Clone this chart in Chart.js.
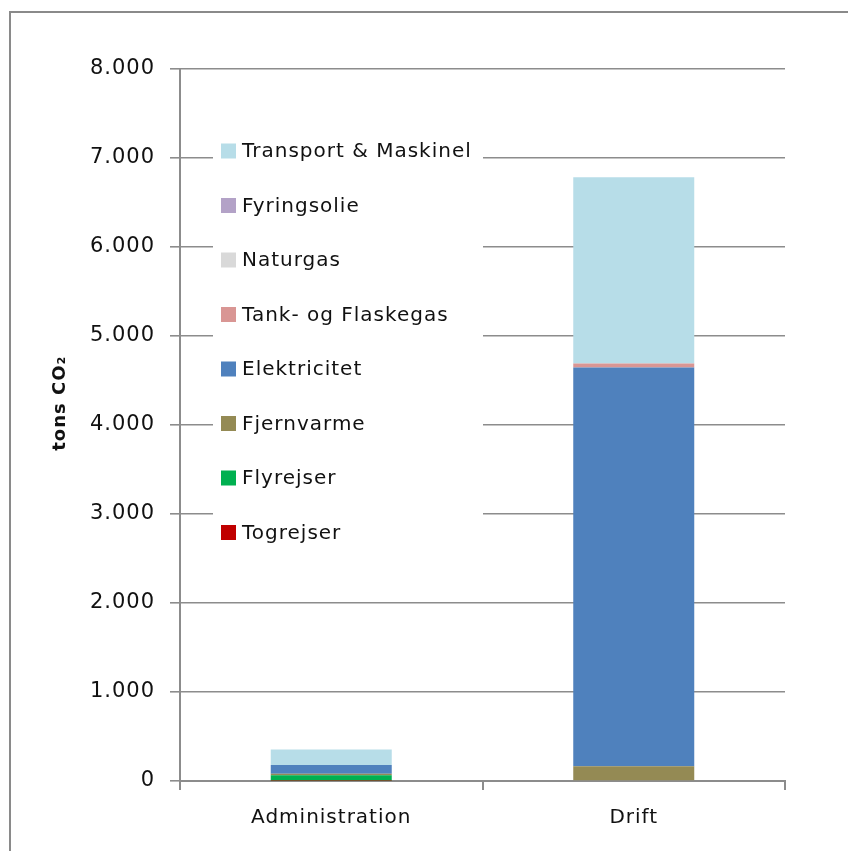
<!DOCTYPE html>
<html>
<head>
<meta charset="utf-8">
<script src="https://cdn.jsdelivr.net/npm/chart.js@4/dist/chart.umd.min.js"></script>
<style>
  html, body { margin: 0; padding: 0; background: #fff; overflow: hidden; }
  #wrap { position: relative; width: 848px; height: 851px; }
  #frame { position: absolute; left: 9px; top: 11px; width: 900px; height: 900px;
           border-left: 2px solid #8a8a8a; border-top: 2px solid #8a8a8a; pointer-events: none; }
  canvas { position: absolute; left: 0; top: 0; }
</style>
</head>
<body>
<div id="wrap">
  <canvas id="co2Chart" width="848" height="851"></canvas>
  <div id="frame"></div>
</div>
<script>
// ==========================================
// Data (tons CO2 per kategori)
// ==========================================
const categories = ['Administration', 'Drift'];

const togrejser    = [2, 0];
const flyrejser    = [64, 0];
const fjernvarme   = [15, 165];
const elektricitet = [98, 4480];
const tankgas      = [0, 45];
const naturgas     = [0, 0];
const fyringsolie  = [0, 0];
const transport    = [175, 2095];

const seriesNames  = ['Togrejser', 'Flyrejser', 'Fjernvarme', 'Elektricitet',
                      'Tank- og Flaskegas', 'Naturgas', 'Fyringsolie', 'Transport & Maskinel'];
const seriesValues = [togrejser, flyrejser, fjernvarme, elektricitet,
                      tankgas, naturgas, fyringsolie, transport];
const seriesColors = ['#c00000', '#00b050', '#948a54', '#4f81bd',
                      '#d99694', '#d9d9d9', '#b3a2c7', '#b7dde8'];

const yMax = 8000;
const yStep = 1000;

// punktum som tusindtalsseparator
function fmt(v) {
    return String(v).replace(/\B(?=(\d{3})+(?!\d))/g, '.');
}

// ==========================================
// Legend inde i plotområdet (hvid baggrund over gitterlinjer)
// ==========================================
const innerLegend = {
    id: 'innerLegend',
    beforeDraw(chart) {
        chart.ctx.letterSpacing = '1px';
    },
    beforeDatasetsDraw(chart) {
        const ctx = chart.ctx;
        ctx.save();
        ctx.fillStyle = '#ffffff';
        ctx.fillRect(213, 126, 270, 432);

        ctx.font = '20px "DejaVu Sans"';
        ctx.textBaseline = 'middle';
        ctx.textAlign = 'left';
        const ds = chart.data.datasets;
        for (let i = 0; i < ds.length; i++) {
            const d = ds[ds.length - 1 - i];
            const y = 151 + i * 54.5;
            ctx.fillStyle = d.backgroundColor;
            ctx.fillRect(221, y - 7.5, 15, 15);
            ctx.fillStyle = '#111';
            ctx.fillText(d.label, 242, y + 1);
        }
        ctx.restore();
    }
};

const gridColor = '#8c8c8c';

new Chart(document.getElementById('co2Chart'), {
    type: 'bar',
    data: {
        labels: categories,
        datasets: seriesNames.map((name, i) => ({
            label: name,
            data: seriesValues[i],
            backgroundColor: seriesColors[i],
            borderWidth: 0,
            categoryPercentage: 1,
            barPercentage: 0.4
        }))
    },
    options: {
        responsive: false,
        animation: false,
        layout: { padding: { left: 0, top: 69, right: 63, bottom: 0 } },
        plugins: {
            legend: { display: false },
            tooltip: { enabled: false }
        },
        scales: {
            x: {
                stacked: true,
                afterFit: s => { s.height = 70; },
                grid: { drawOnChartArea: false, drawTicks: true, tickLength: 9,
                        color: gridColor, lineWidth: 2 },
                border: { color: gridColor, width: 2 },
                ticks: { color: '#111', padding: 16,
                         font: { family: '"DejaVu Sans"', size: 20 } }
            },
            y: {
                stacked: true,
                min: 0,
                max: yMax,
                afterFit: s => { s.width = 180; },
                grid: { color: gridColor, lineWidth: 1.6, tickLength: 10 },
                border: { color: gridColor, width: 2 },
                ticks: { stepSize: yStep, color: '#111', padding: 15,
                         font: { family: '"DejaVu Sans"', size: 21 },
                         callback: v => fmt(v) },
                title: {
                    display: true,
                    text: '\u00a0\u00a0\u00a0\u00a0\u00a0\u00a0tons CO\u2082',
                    color: '#111',
                    font: { family: '"DejaVu Sans"', size: 18, weight: 'bold' },
                    padding: { top: 50, bottom: 0 }
                }
            }
        }
    },
    plugins: [innerLegend]
});
</script>
</body>
</html>
